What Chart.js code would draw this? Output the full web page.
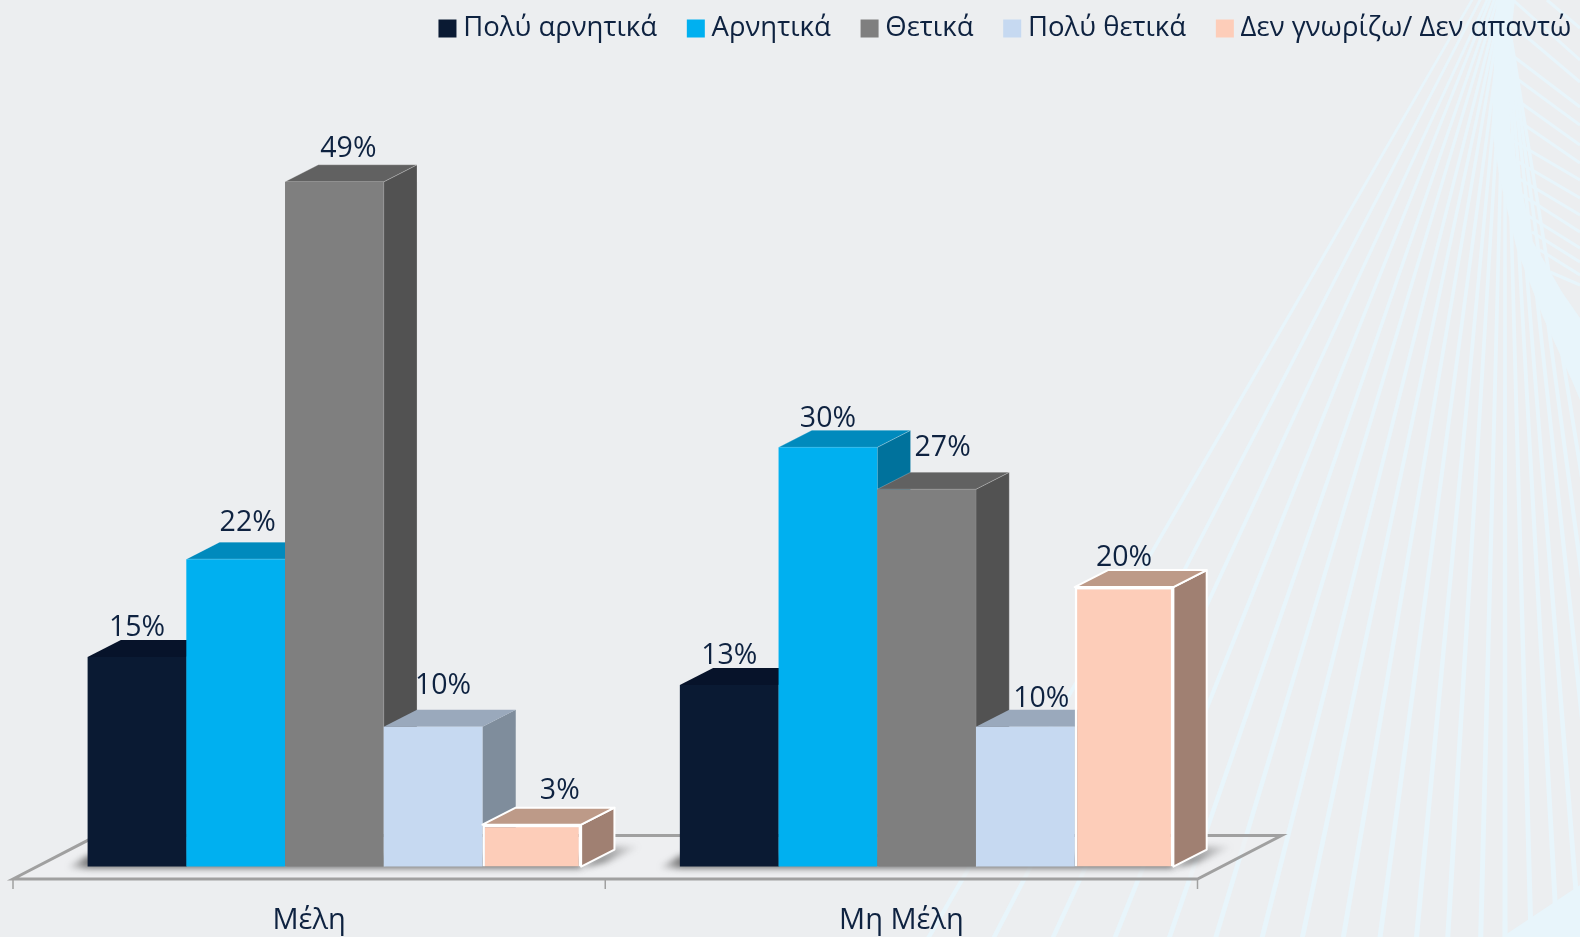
<!DOCTYPE html>
<html>
<head>
<meta charset="utf-8">
<style>html,body{margin:0;padding:0;background:#ECEEF0}canvas{display:block}</style>
<script src="https://cdn.jsdelivr.net/npm/chart.js@4/dist/chart.umd.min.js"></script>
</head>
<body>
<canvas id="c" width="1580" height="937"></canvas>
<script>
const categories = ["Μέλη", "Μη Μέλη"];
const seriesNames = ["Πολύ αρνητικά", "Αρνητικά", "Θετικά", "Πολύ θετικά", "Δεν γνωρίζω/ Δεν απαντώ"];
const veryNegative = [15, 13];
const negative = [22, 30];
const positive = [49, 27];
const veryPositive = [10, 10];
const unknown = [3, 20];
const seriesValues = [veryNegative, negative, positive, veryPositive, unknown];

const frontColors = ["#0A1A33", "#00B0F0", "#7F7F7F", "#C6D9F1", "#FDCDB9"];
const topColors = ["#07132A", "#008ABD", "#616161", "#9AA9BC", "#BD9A88"];
const sideColors = ["#060F20", "#00729C", "#525252", "#7F8D9C", "#A08072"];
const edgeColors = [null, "rgba(255,255,255,.22)", "rgba(255,255,255,.22)", null, "#FFFFFF"];
const labelNudgeX = [[0, 0], [12, 0], [14, 16], [10, 16], [28, 0]];
const labelNudgeY = [[29, 29], [36, 28], [33, 41], [41, 28], [34, 29]];

const TEXT = "#0E2240";
const FONT = "'Open Sans'";
const LINE = "#E8F5FB";
const DEPTH_X = 33.3, DEPTH_Y = 17;
const AXIS_SHIFT = 25.25;

const fanTop = [1472,1480,1487,1490,1494,1497,1500,1502,1503,1505,1505,1505,1505,1505,1505,1505,1505,1505,1505,1505];
const fanAt540 = [1159,1200,1237,1274,1307,1335,1363,1387,1411,1433,1454,1472,1491,1505,1520,1535,1548,1563,1577,1592];
const stripes = [[1513,0,1580,60],[1547,0,1580,28],[1509,22,1580,82],[1509,53,1580,107],[1509,73,1580,125],
  [1510,95,1580,145],[1510,115,1580,163],[1512,140,1580,180],[1515,160,1580,198],[1518,178,1580,215],
  [1522,195,1580,232],[1527,215,1580,248],[1532,232,1580,262],[1540,250,1580,275],[1550,272,1580,285]];
const mass = [[1497,0],[1515,0],[1509,50],[1510,130],[1522,190],[1532,240],[1562,292],[1580,318],[1580,400],[1573,383],[1543,317],[1517,250],[1500,180],[1492,130],[1495,30]];

function poly(ctx, pts){
  ctx.beginPath();
  pts.forEach((p,i)=> i ? ctx.lineTo(p[0],p[1]) : ctx.moveTo(p[0],p[1]));
  ctx.closePath();
}

const backdrop = {
  id: "backdrop",
  beforeDraw(chart){
    const ctx = chart.ctx;
    ctx.save();
    ctx.fillStyle = "#ECEEF0";
    ctx.fillRect(0,0,chart.width,chart.height);
    ctx.beginPath();
    ctx.rect(0,0,1580,937);
    ctx.clip();
    ctx.fillStyle = LINE;
    fanTop.forEach((xt,i)=>{
      const s = (fanAt540[i]-xt)/540;
      const xb = xt + s*937;
      poly(ctx, [[xt-1.5,0],[xt+1.5,0],[xb+2.5,937],[xb-2.5,937]]);
      ctx.fill();
    });
    ctx.strokeStyle = LINE;
    ctx.lineWidth = 3;
    stripes.forEach(s=>{
      ctx.beginPath();
      ctx.moveTo(s[0],s[1]);
      ctx.lineTo(s[2],s[3]);
      ctx.stroke();
    });
    poly(ctx, mass); ctx.fill();
    poly(ctx, [[1502,937],[1580,885],[1580,937]]); ctx.fill();
    ctx.restore();
  }
};

const floor3d = {
  id: "floor3d",
  beforeDatasetsDraw(chart){
    const ctx = chart.ctx, x = chart.scales.x, y = chart.scales.y;
    const base = y.getPixelForValue(0);
    const front = base + 12.4, back = base - 31;
    const left = x.left - AXIS_SHIFT, right = x.right - AXIS_SHIFT, mid = (left+right)/2;
    ctx.save();
    ctx.fillStyle = "rgba(239,240,241,.65)";
    poly(ctx, [[left,front],[left+84,back],[right+84,back],[right,front]]);
    ctx.fill();
    ctx.strokeStyle = "#A0A0A0";
    ctx.lineWidth = 3;
    ctx.stroke();
    ctx.lineWidth = 1.5;
    [left, mid, right].forEach(px=>{
      ctx.beginPath(); ctx.moveTo(px,front); ctx.lineTo(px,front+10); ctx.stroke();
    });
    // soft shadows on the floor
    const first = chart.getDatasetMeta(0).data;
    const last = chart.getDatasetMeta(seriesNames.length-1).data;
    categories.forEach((_,i)=>{
      const l = first[i].x - first[i].width/2;
      const r = last[i].x + last[i].width/2;
      ctx.save();
      ctx.filter = "blur(3px)";
      const lg = ctx.createLinearGradient(l-20,0,l,0);
      lg.addColorStop(0,"rgba(90,90,90,.15)");
      lg.addColorStop(1,"rgba(70,70,70,.7)");
      ctx.fillStyle = lg;
      poly(ctx, [[l-20,base+1],[l,base-11],[r,base-11],[r,base+2],[l,base+2]]);
      ctx.fill();
      const g = ctx.createLinearGradient(r,0,r+58,0);
      g.addColorStop(0,"rgba(60,60,60,.85)");
      g.addColorStop(1,"rgba(90,90,90,.05)");
      ctx.fillStyle = g;
      poly(ctx, [[r,base+1],[r+33,base-20],[r+58,base-20],[r+25,base-4]]);
      ctx.fill();
      ctx.restore();
    });
    ctx.restore();
  },
  beforeDatasetDraw(){ return false; },
  afterDatasetsDraw(chart){
    const ctx = chart.ctx;
    seriesNames.forEach((_,d)=>{
      chart.getDatasetMeta(d).data.forEach(bar=>{
        const l = bar.x - bar.width/2, r = bar.x + bar.width/2, t = bar.y, b = bar.base;
        ctx.save();
        const edge = edgeColors[d];
        ctx.lineJoin = "round";
        ctx.fillStyle = sideColors[d];
        poly(ctx, [[r,t],[r+DEPTH_X,t-DEPTH_Y],[r+DEPTH_X,b-DEPTH_Y],[r,b]]);
        ctx.fill();
        if(edge){ ctx.strokeStyle = edge; ctx.lineWidth = d===4?2:1; ctx.stroke(); }
        ctx.fillStyle = topColors[d];
        poly(ctx, [[l,t],[l+DEPTH_X,t-DEPTH_Y],[r+DEPTH_X,t-DEPTH_Y],[r,t]]);
        ctx.fill();
        if(edge){ ctx.stroke(); }
        ctx.restore();
        bar.draw(ctx);
      });
    });
    ctx.save();
    ctx.fillStyle = TEXT;
    ctx.font = "28.5px " + FONT;
    ctx.textAlign = "center";
    ctx.textBaseline = "middle";
    seriesValues.forEach((vals,d)=>{
      chart.getDatasetMeta(d).data.forEach((bar,i)=>{
        ctx.fillText(vals[i] + "%", bar.x + labelNudgeX[d][i], bar.y - labelNudgeY[d][i]);
      });
    });
    ctx.restore();
  }
};

new Chart(document.getElementById("c"), {
  type: "bar",
  data: {
    labels: categories,
    datasets: seriesNames.map((name,d)=>({
      label: name,
      data: seriesValues[d],
      backgroundColor: frontColors[d],
      borderColor: d===4 ? "#FFFFFF" : frontColors[d],
      borderWidth: d===4 ? 2.5 : 0,
      categoryPercentage: 5/6,
      barPercentage: 1
    }))
  },
  options: {
    responsive: false,
    animation: false,
    layout: { padding: { top: -22, left: 0, right: -28, bottom: 0 } },
    plugins: {
      tooltip: { enabled: false },
      legend: {
        position: "top",
        align: "end",
        labels: {
          color: TEXT,
          font: { family: FONT, size: 27.5 },
          padding: 36.75,
          boxWidth: 4,
          boxHeight: 4,
          generateLabels(chart){
            return Chart.defaults.plugins.legend.labels.generateLabels(chart).map((it,i)=>
              Object.assign(it,{ fillStyle: frontColors[i], strokeStyle: frontColors[i], lineWidth: 14, fontColor: TEXT }));
          }
        }
      }
    },
    scales: {
      x: {
        grid: { display: false },
        border: { display: false },
        ticks: { color: TEXT, font: { family: FONT, size: 29 }, labelOffset: -AXIS_SHIFT, padding: 29, maxRotation: 0 },
        afterFit(s){ s.height = 70.4; }
      },
      y: {
        min: 0, max: 58.27,
        grid: { display: false },
        border: { display: false },
        ticks: { display: false },
        afterFit(s){ s.width = 38.25; }
      },
      y2: {
        position: "right",
        min: 0, max: 1,
        grid: { display: false },
        border: { display: false },
        ticks: { display: false },
        afterFit(s){ s.width = 385.25; }
      }
    }
  },
  plugins: [backdrop, floor3d]
});
</script>
</body>
</html>
